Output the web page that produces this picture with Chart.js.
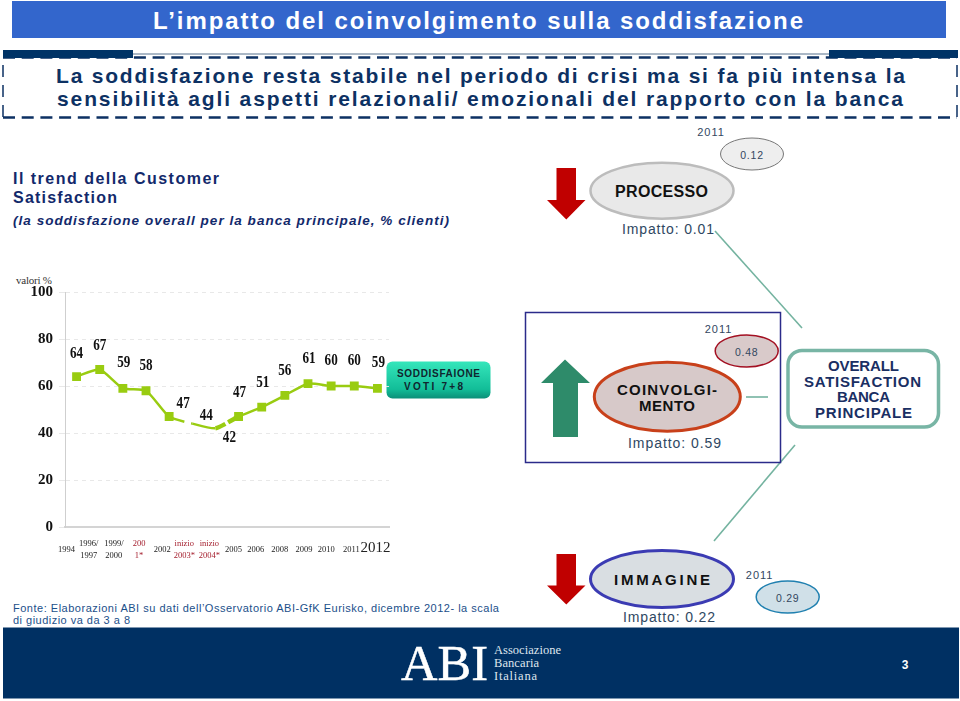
<!DOCTYPE html>
<html>
<head>
<meta charset="utf-8">
<title>L'impatto del coinvolgimento sulla soddisfazione</title>
<script src="https://cdn.jsdelivr.net/npm/chart.js@4"></script>
<style>
  html, body { margin: 0; padding: 0; background: #fff; overflow: hidden; }
  #slide { position: absolute; left: 0; top: 0; }
  #myChart { position: absolute; left: 0; top: 0; }
  text { font-family: "Liberation Sans", Arial, sans-serif; dominant-baseline: central; }
</style>
</head>
<body>
<svg id="slide" width="960" height="701" viewBox="0 0 960 701">
  <defs>
    <linearGradient id="teal" x1="0" y1="0" x2="0" y2="1">
      <stop offset="0" stop-color="#35e6bb"/>
      <stop offset="0.75" stop-color="#12bd98"/>
      <stop offset="1" stop-color="#0b8f78"/>
    </linearGradient>
  </defs>
  <!-- header -->
  <rect x="12" y="1" width="934" height="37" fill="#3366cc"/>
  <text x="153" y="20" textLength="650" font-size="24" font-weight="bold" fill="#fff">L’impatto del coinvolgimento sulla soddisfazione</text>
  <line x1="133" y1="54" x2="829" y2="54" stroke="#56708c" stroke-width="1"/>
  <g fill="none" stroke="#0d3163">
    <line x1="3" y1="57.5" x2="957" y2="57.5" stroke-width="2.5" stroke-dasharray="12 6.7"/>
    <line x1="3" y1="117.5" x2="957" y2="117.5" stroke-width="2.5" stroke-dasharray="12 6.7"/>
    <line x1="3" y1="65" x2="3" y2="117" stroke-width="1.5" stroke-dasharray="12 8"/>
    <line x1="957" y1="65" x2="957" y2="117" stroke-width="1.5" stroke-dasharray="12 8"/>
  </g>
  <rect x="3" y="50" width="130" height="8" fill="#003366"/>
  <rect x="829" y="50" width="129" height="8" fill="#003366"/>
  <text x="56" y="75" textLength="849" font-size="21" font-weight="bold" fill="#0d3163">La soddisfazione resta stabile nel periodo di crisi ma si fa più intensa la</text>
  <text x="57" y="98.5" textLength="846" font-size="21" font-weight="bold" fill="#0d3163">sensibilità agli aspetti relazionali/ emozionali del rapporto con la banca</text>
  <!-- left captions -->
  <text x="13" y="178" textLength="206" font-size="16" font-weight="bold" fill="#12296b">Il trend della Customer</text>
  <text x="13" y="197" textLength="104" font-size="16" font-weight="bold" fill="#12296b">Satisfaction</text>
  <text x="13" y="220" textLength="436" font-size="13.5" font-weight="bold" font-style="italic" fill="#12296b">(la soddisfazione overall per la banca principale, % clienti)</text>
  <text x="16" y="280" textLength="36" font-size="11" style="font-family:'Liberation Serif'" fill="#333">valori %</text>
  <text x="13" y="608" textLength="486" font-size="11" fill="#1b4f8a">Fonte: Elaborazioni ABI su dati dell’Osservatorio ABI-GfK Eurisko, dicembre 2012- la scala</text>
  <text x="13" y="620" textLength="117" font-size="11" fill="#1b4f8a">di giudizio va da 3 a 8</text>
  <!-- legend box of the series -->
  <rect x="386.5" y="361.5" width="104" height="37" rx="6" fill="url(#teal)"/>
  <text x="397" y="373.5" textLength="83" font-size="10" font-weight="bold" fill="#10262e">SODDISFAIONE</text>
  <text x="404" y="386" textLength="59" font-size="10" font-weight="bold" fill="#10262e">VOTI 7+8</text>
  <!-- connector lines -->
  <g stroke="#74b3a0" stroke-width="1.6" fill="none">
    <line x1="715" y1="231" x2="802" y2="328"/>
    <line x1="795" y1="445" x2="714" y2="541"/>
    <line x1="746" y1="397" x2="768" y2="397"/>
  </g>
  <!-- process -->
  <polygon points="556.5,168 576,168 576,200 585.5,200 566.3,219.5 547,200 556.5,200" fill="#c00000"/>
  <text x="711" y="132" text-anchor="middle" font-size="11" letter-spacing="1" fill="#33475f">2011</text>
  <ellipse cx="752" cy="154" rx="31.5" ry="16" fill="#eeeeee" stroke="#777" stroke-width="1"/>
  <text x="752" y="154.5" text-anchor="middle" font-size="10.5" letter-spacing="0.8" fill="#33475f">0.12</text>
  <ellipse cx="662" cy="190.7" rx="71.5" ry="28" fill="#e9e9e9" stroke="#bcbcbc" stroke-width="2.5"/>
  <text x="615" y="191" textLength="93" font-size="16" font-weight="bold" fill="#111">PROCESSO</text>
  <text x="622" y="229" textLength="92" font-size="14" fill="#2f4862">Impatto: 0.01</text>
  <!-- coinvolgimento -->
  <rect x="525.5" y="312.5" width="255" height="150" fill="none" stroke="#2b2b8a" stroke-width="1.5"/>
  <polygon points="565,359.5 590,383 578,383 578,437 553,437 553,383 541,383" fill="#2e8b6a"/>
  <text x="718.5" y="328.5" text-anchor="middle" font-size="11" letter-spacing="1" fill="#33475f">2011</text>
  <ellipse cx="746.7" cy="351" rx="31.5" ry="16" fill="#d9caca" stroke="#a31022" stroke-width="1.5"/>
  <text x="746.7" y="351.5" text-anchor="middle" font-size="10.5" letter-spacing="0.8" fill="#33475f">0.48</text>
  <ellipse cx="667.3" cy="396.7" rx="73" ry="34.5" fill="#d7c9c9" stroke="#c8401a" stroke-width="3"/>
  <text x="617" y="389.5" textLength="100" font-size="15" font-weight="bold" fill="#111">COINVOLGI-</text>
  <text x="639" y="405.5" textLength="56" font-size="15" font-weight="bold" fill="#111">MENTO</text>
  <text x="628" y="443" textLength="93" font-size="14" fill="#2f4862">Impatto: 0.59</text>
  <!-- overall -->
  <rect x="788" y="350.5" width="150.5" height="76.5" rx="14" fill="#fff" stroke="#78b5a5" stroke-width="3.5"/>
  <text x="828" y="365.5" textLength="71" font-size="15" font-weight="bold" fill="#1a2f63">OVERALL</text>
  <text x="804" y="381" textLength="117" font-size="15" font-weight="bold" fill="#1a2f63">SATISFACTION</text>
  <text x="837" y="396.5" textLength="53" font-size="15" font-weight="bold" fill="#1a2f63">BANCA</text>
  <text x="815" y="412" textLength="97" font-size="15" font-weight="bold" fill="#1a2f63">PRINCIPALE</text>
  <!-- immagine -->
  <polygon points="556.5,554 576,554 576,585.5 585.5,585.5 566.3,604.5 547,585.5 556.5,585.5" fill="#c00000"/>
  <ellipse cx="662" cy="579" rx="71.5" ry="28.5" fill="#d9dee2" stroke="#3b3bb3" stroke-width="3"/>
  <text x="614" y="579.5" textLength="96" font-size="15" font-weight="bold" fill="#111">IMMAGINE</text>
  <text x="623" y="617" textLength="92" font-size="14" fill="#2f4862">Impatto: 0.22</text>
  <text x="759.6" y="574.5" text-anchor="middle" font-size="11" letter-spacing="1" fill="#33475f">2011</text>
  <ellipse cx="787.7" cy="597" rx="31.5" ry="16" fill="#d0e0e8" stroke="#2080b0" stroke-width="1.5"/>
  <text x="787.7" y="597.5" text-anchor="middle" font-size="10.5" letter-spacing="0.8" fill="#33475f">0.29</text>
  <!-- footer -->
  <rect x="3" y="627.5" width="956" height="71" fill="#003063"/>
  <text x="401" y="663" textLength="87" lengthAdjust="spacingAndGlyphs" font-size="51" stroke="#fff" stroke-width="0.5" style="font-family:'Liberation Serif'" fill="#fff">ABI</text>
  <text x="494" y="650" textLength="67" font-size="12.5" style="font-family:'Liberation Serif'" fill="#dfe5ee">Associazione</text>
  <text x="494" y="663" textLength="45" font-size="12.5" style="font-family:'Liberation Serif'" fill="#dfe5ee">Bancaria</text>
  <text x="494" y="676" textLength="43" font-size="12.5" style="font-family:'Liberation Serif'" fill="#dfe5ee">Italiana</text>
  <text x="905" y="664.5" text-anchor="middle" font-size="12" font-weight="bold" fill="#fff">3</text>
</svg>
<canvas id="myChart" width="960" height="701"></canvas>
<script>
var yearLabels = ['1994', ['1996/', '1997'], ['1999/', '2000'], ['200', '1*'], '2002',
  ['inizio', '2003*'], ['inizio', '2004*'], '2005', '2006', '2008', '2009', '2010', '2011', '2012'];
var satisfaction = [64, 67, 59, 58, 47, 44, 42, 47, 51, 56, 61, 60, 60, 59];
var estimatedYears = [3, 5, 6]; // printed in red in the source
var labelShiftX = [0, 0, 1, 0, 14, 14, 14, 1, 1, 0, 1, 0, 0, 1];
var labelShiftY = [-23, -24, -25, -25, -13, -8, 9.5, -24, -24, -25, -25, -25, -25, -25];
var tickShiftX = [-10, -11, -9, -7, -7, -8, -6, -5, -6, -5, -4, -5, -3, -2];

var valueLabels = {
  id: 'valueLabels',
  // the year boxes are not quite under their points in the source
  beforeDraw: function(chart) {
    chart.scales.x.getLabelItems(chart.chartArea).forEach(function(item, i) {
      item.options.translation[0] += tickShiftX[i];
    });
  },
  afterDatasetsDraw: function(chart) {
    var c = chart.ctx, meta = chart.getDatasetMeta(0);
    c.save();
    c.font = 'bold 16px "Liberation Serif"';
    c.fillStyle = '#111';
    c.textAlign = 'center';
    c.textBaseline = 'middle';
    meta.data.forEach(function(pt, i) {
      c.save();
      c.translate(pt.x + labelShiftX[i], pt.y + labelShiftY[i]);
      c.scale(0.82, 1);
      c.fillText(satisfaction[i], 0, 0);
      c.restore();
    });
    c.restore();
  }
};

var ctx = document.getElementById('myChart').getContext('2d');
var myChart = new Chart(ctx, {
  type: 'line',
  data: {
    labels: yearLabels,
    datasets: [{
      data: satisfaction,
      borderColor: '#99cc11',
      backgroundColor: '#99cc11',
      borderWidth: 2.5,
      tension: 0.2,
      pointStyle: 'rect',
      pointRadius: function(c) { return c.dataIndex === 5 || c.dataIndex === 6 ? 0 : 4.5; },
      segment: {
        borderDash: function(c) {
          if (c.p0DataIndex === 4) return [16, 7];
          if (c.p0DataIndex === 6) return [11, 3];
          return undefined;
        },
        borderWidth: function(c) { return c.p0DataIndex === 6 ? 4.5 : undefined; }
      }
    }]
  },
  options: {
    responsive: false,
    animation: false,
    layout: { padding: { top: 292, right: 571, left: 0, bottom: 0 } },
    plugins: { legend: { display: false }, tooltip: { enabled: false } },
    scales: {
      x: {
        afterFit: function(s) { s.height = 174; },
        offset: true,
        grid: { display: false },
        border: { color: '#d4d4d4', width: 2 },
        ticks: {
          autoSkip: false,
          maxRotation: 0,
          padding: 9,
          crossAlign: 'center',
          color: function(c) { return estimatedYears.indexOf(c.index) >= 0 ? '#a5202f' : '#222'; },
          font: function(c) {
            return { family: 'Liberation Serif', size: c.index === 13 ? 15 : 8.5, lineHeight: c.index === 13 ? 1 : 1.4 };
          }
        }
      },
      y: {
        min: 0,
        max: 100,
        afterFit: function(s) { s.width = 65; },
        grid: { color: '#e8e8e8', tickLength: 6 },
        border: { color: '#cfcfcf', dash: [4, 4], dashOffset: 0 },
        ticks: {
          stepSize: 20,
          padding: 6,
          color: '#111',
          font: { family: 'Liberation Serif', size: 15, weight: 'bold' }
        }
      }
    }
  },
  plugins: [valueLabels]
});
</script>
</body>
</html>
